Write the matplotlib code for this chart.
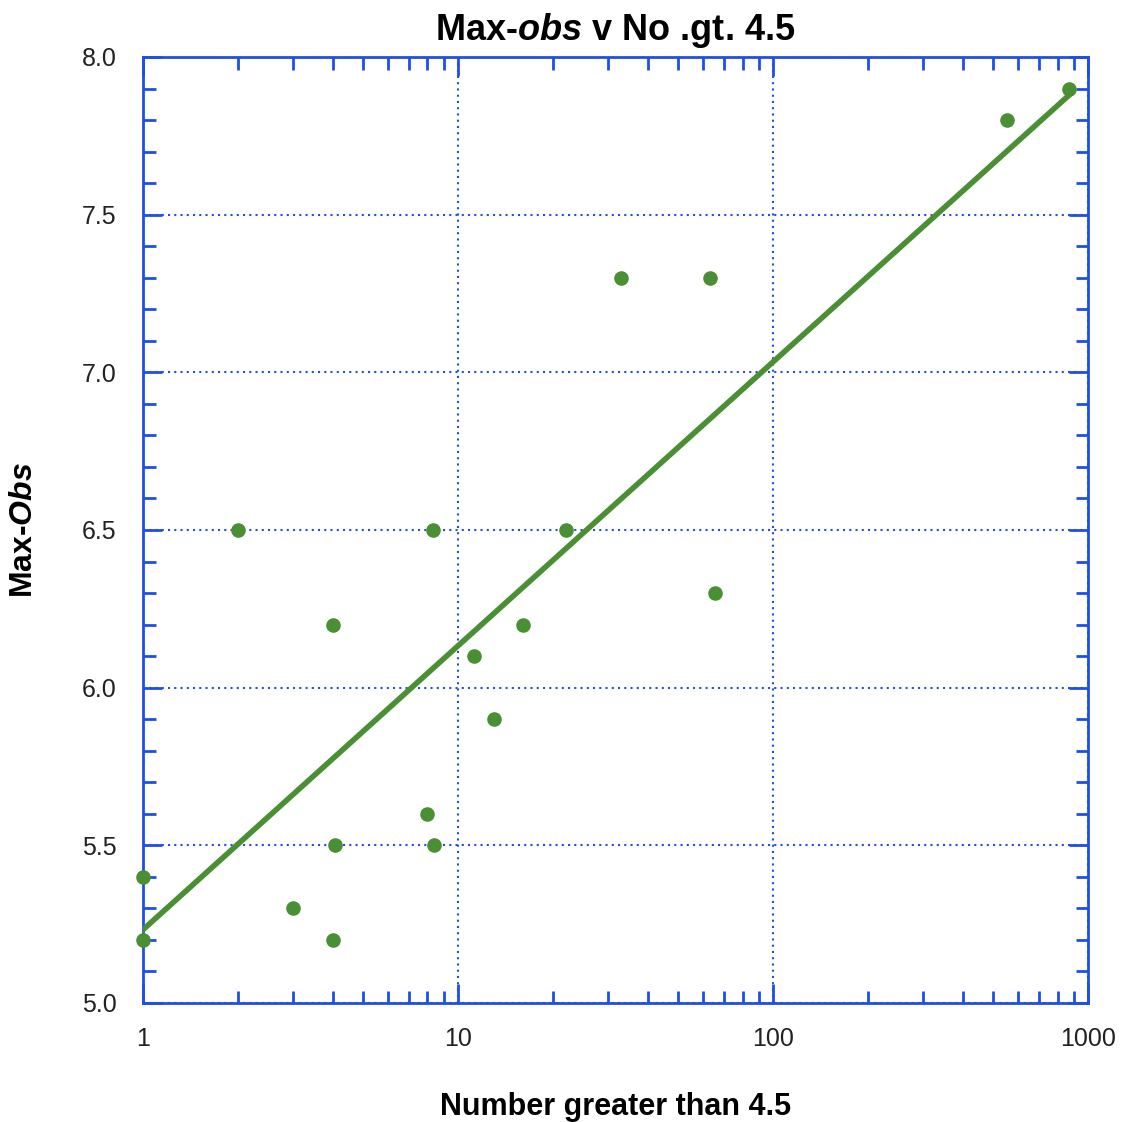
import numpy as np
import matplotlib
matplotlib.use('Agg')
import matplotlib.pyplot as plt
from matplotlib.ticker import MultipleLocator, FixedLocator, LogLocator, NullFormatter

# number of events greater than 4.5 and the max observed value
num_gt = [1, 1, 2, 3, 4, 4.07, 4, 8, 8.3, 8.4, 11.2, 13, 16.1, 22, 33, 63, 65.5, 553, 870]
max_obs = [5.4, 5.2, 6.5, 5.3, 6.2, 5.5, 5.2, 5.6, 6.5, 5.5, 6.1, 5.9, 6.2, 6.5, 7.3, 7.3, 6.3, 7.8, 7.9]

x_ticks = [1, 10, 100, 1000]
x_tick_labels = ['1', '10', '100', '1000']
y_ticks = [5.0, 5.5, 6.0, 6.5, 7.0, 7.5, 8.0]

blue = '#1f4fe6'
green = '#4a8f34'

plt.rcParams['font.family'] = ['Liberation Sans', 'DejaVu Sans']
plt.rcParams['mathtext.fontset'] = 'custom'
plt.rcParams['mathtext.it'] = 'Liberation Sans:italic:bold'
plt.rcParams['mathtext.rm'] = 'Liberation Sans:bold'

fig = plt.figure(figsize=(11.23, 11.22), dpi=100)
ax = fig.add_axes([0.1273, 0.1061, 0.9689 - 0.1273, 0.9492 - 0.1061])

x = np.array(num_gt)
y = np.array(max_obs)
coef = np.polyfit(np.log10(x), y, 1)
xf = np.logspace(np.log10(x.min()), np.log10(x.max()), 200)
ax.plot(xf, coef[0] * np.log10(xf) + coef[1], color=green, linewidth=4, zorder=3)
ax.scatter(x, y, s=90, color=green, zorder=4, clip_on=False)

ax.set_xscale('log')
ax.set_xlim(1, 1000)
ax.set_ylim(5.0, 8.0)
ax.xaxis.set_major_locator(FixedLocator(x_ticks))
ax.set_xticklabels(x_tick_labels)
ax.xaxis.set_minor_locator(LogLocator(base=10, subs=np.arange(2, 10)))
ax.xaxis.set_minor_formatter(NullFormatter())
ax.yaxis.set_major_locator(FixedLocator(y_ticks))
ax.set_yticklabels(['%.1f' % v for v in y_ticks])
ax.yaxis.set_minor_locator(MultipleLocator(0.1))

ax.grid(True, which='major', color=blue, linestyle=(0, (1, 2)), linewidth=1.5)
for s in ax.spines.values():
    s.set_color(blue)
    s.set_linewidth(2)
ax.tick_params(which='both', direction='in', top=True, right=True, color=blue,
               labelsize=18, labelcolor='#222222')
ax.tick_params(which='major', length=14, width=2)
ax.tick_params(which='minor', length=9, width=2)
ax.tick_params(axis='x', which='major', pad=17)
ax.tick_params(axis='y', which='major', pad=19)

ax.set_title('Max-$\\it{obs}$ v No .gt. 4.5', fontsize=26, fontweight='bold', pad=12)
ax.set_xlabel('Number greater than 4.5', fontsize=22, fontweight='bold')
ax.set_ylabel('Max-$\\it{Obs}$', fontsize=23, fontweight='bold')
ax.xaxis.set_label_coords(0.5, -0.094)
ax.yaxis.set_label_coords(-0.110, 0.5)

fig.savefig('out.png', dpi=100)
